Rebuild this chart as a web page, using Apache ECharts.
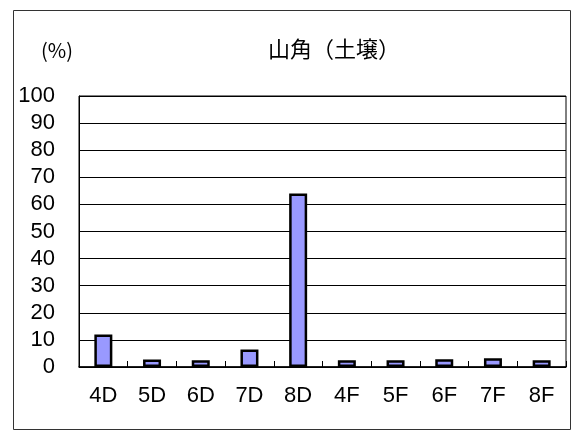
<!DOCTYPE html>
<html>
<head>
<meta charset="utf-8">
<script src="https://cdn.jsdelivr.net/npm/echarts@6/dist/echarts.min.js"></script>
<style>
  html, body { margin: 0; padding: 0; background: #fff; }
  #chart { width: 572px; height: 432px; }
</style>
</head>
<body>
<div id="chart"></div>
<script>
// Sampling points and their share (%)
const categories = ['4D', '5D', '6D', '7D', '8D', '4F', '5F', '6F', '7F', '8F'];
const values = [12, 2.8, 2.5, 6.5, 64, 2.5, 2.5, 2.9, 3.2, 2.5];
const yTicks = { min: 0, max: 100, interval: 10 };

const numFont = '"Liberation Sans", Arial, sans-serif';
const cjkFont = '"Noto Sans CJK JP", sans-serif';

const chart = echarts.init(document.getElementById('chart'), null, { renderer: 'canvas' });

chart.setOption({
  backgroundColor: '#fff',
  animation: false,
  graphic: [
    {
      type: 'rect',
      shape: { x: 13.5, y: 10.5, width: 557, height: 419 },
      style: { fill: 'none', stroke: '#333', lineWidth: 1 },
      silent: true
    },
    {
      type: 'text',
      x: 57, y: 50,
      style: {
        text: '(%)', font: '20px ' + cjkFont, fill: '#000',
        align: 'center', verticalAlign: 'middle'
      }
    },
    {
      type: 'text',
      x: 334, y: 49,
      style: {
        text: '山角（土壌）', font: '22px ' + cjkFont, fill: '#000',
        align: 'center', verticalAlign: 'middle'
      }
    }
  ],
  grid: {
    left: 79, right: 6, top: 96, bottom: 65,
    show: true, borderColor: '#000', borderWidth: 1, containLabel: false
  },
  xAxis: {
    type: 'category',
    data: categories,
    axisLine: { show: true, lineStyle: { color: '#000', width: 1.5 } },
    axisTick: { show: true, inside: true, length: 6, lineStyle: { color: '#000', width: 1 } },
    axisLabel: { color: '#000', fontSize: 22, fontFamily: numFont, margin: 18 },
    splitLine: { show: false }
  },
  yAxis: {
    type: 'value',
    min: yTicks.min, max: yTicks.max, interval: yTicks.interval,
    axisLine: { show: true, lineStyle: { color: '#000', width: 1 } },
    axisTick: { show: false },
    axisLabel: { color: '#000', fontSize: 22, fontFamily: numFont, margin: 24 },
    splitLine: { show: true, lineStyle: { color: '#000', width: 1 } }
  },
  series: [{
    type: 'bar',
    data: values,
    barWidth: 18,
    itemStyle: { color: '#9999FF', borderColor: '#000', borderWidth: 2.5 },
    silent: true
  }]
});
</script>
</body>
</html>
